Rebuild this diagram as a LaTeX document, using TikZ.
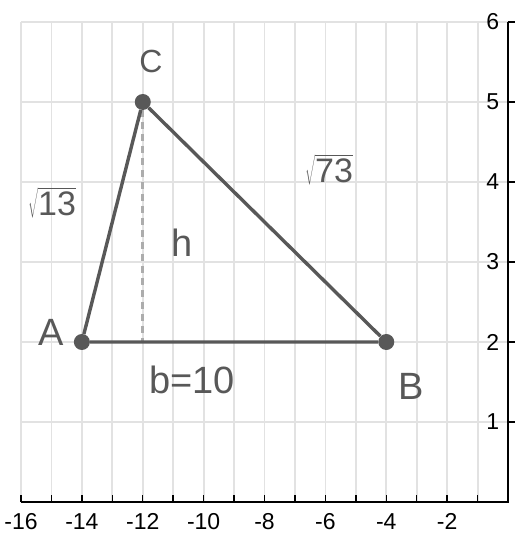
\documentclass[tikz,border=0pt]{standalone}
\usepackage{fontspec}
\setmainfont{Liberation Sans}
\usepackage{tikz}
\usetikzlibrary{calc}
\definecolor{gridC}{HTML}{E2E2E2}
\definecolor{penC}{HTML}{585858}

\begin{document}
\begin{tikzpicture}[x=30.44pt,y=80pt,every node/.style={font=\fontsize{23}{23}\selectfont},
  hand/.style={font=\fontsize{38}{38}\selectfont,text=penC},
  dot/.style={circle,fill=penC,inner sep=0pt,minimum size=16pt}]
  \useasboundingbox (-16.69,-0.3875) rectangle (0.263,6.275);
  \foreach \k in {-16,...,-1}{
    \draw[gridC,line width=1.8pt] (\k,0) -- (\k,6);}
  \foreach \k in {1,...,6}{
    \draw[gridC,line width=1.8pt] (-16,\k) -- (0,\k);}
  \draw[line width=1.4pt] (-16,0) -- (0,0) -- (0,6);
  \foreach \k in {-16,...,-1}{
    \draw[line width=1.4pt] (\k,0) -- ++(0,7pt);}
  \foreach \k in {1,...,6}{
    \draw[line width=1.4pt] (0,\k) -- ++(7pt,0);
    \node (yl\k) at (-0.5,\k) {\k};}
  \foreach \k in {-16,-14,...,-2}{
    \node (xl\k) at (\k,-0.24) {\k};}
  \node[dot] (A) at (-14,2) {};
  \node[dot] (B) at (-4,2) {};
  \node[dot] (C) at (-12,5) {};
  \coordinate (F) at (-12,2);
  \draw[penC!50,line width=2.6pt,dash pattern=on 7pt off 5pt] (C) -- (F);
  \draw[penC,line width=3.4pt,line join=round] (A) -- (B) -- (C) -- (A);
  \node[hand,font=\fontsize{32}{32}\selectfont] (labC) at (-11.73,5.51) {C};
  \node[hand] (labA) at (-15.01,2.12) {A};
  \node[hand] (labB) at (-3.19,1.44) {B};
  \node[hand] (labh) at (-10.71,3.24) {h};
  \node[hand] (labb) at (-10.38,1.52) {b=10};
  \node[hand,font=\fontsize{34}{34}\selectfont] (labAC) at (-14.98,3.74) {$\sqrt{\mbox{13}}$};
  \node[hand,font=\fontsize{34}{34}\selectfont] (labBC) at (-5.88,4.15) {$\sqrt{\mbox{73}}$};
\end{tikzpicture}
\end{document}
